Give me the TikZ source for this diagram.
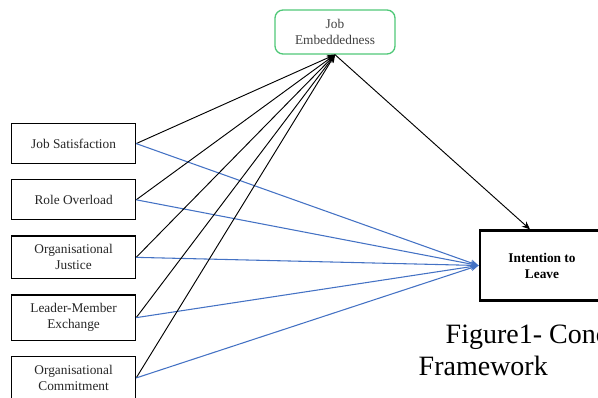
\documentclass[tikz,border=0pt]{standalone}
\usepackage{fontspec}
\setmainfont{Liberation Serif}
\usetikzlibrary{positioning,arrows.meta}
\definecolor{linkblue}{RGB}{68,114,196}
\definecolor{embgreen}{RGB}{80,200,120}
\begin{document}
\begin{tikzpicture}[
  x=0.75pt, y=-0.75pt,
  font=\fontsize{10}{12}\selectfont,
  factor/.style = {
    rectangle, draw=black, line width=0.9pt, minimum width=93pt,
    minimum height=30pt, inner ysep=6.5pt, align=center, text=black!85,
  },
  mediator/.style = {
    rectangle, rounded corners=6pt, draw=embgreen, line width=1pt,
    minimum width=90pt, minimum height=33pt, align=center, text=black!75,
  },
  outcome/.style = {
    rectangle, draw=black, line width=2.2pt, minimum width=93pt,
    minimum height=52pt, align=center, font=\fontsize{10}{12}\selectfont\bfseries,
  },
  toemb/.style = {-{Stealth[length=6pt,width=5pt]}, draw=black, line width=0.7pt},
  toleave/.style = {-{Stealth[length=6pt,width=5pt]}, draw=linkblue, line width=0.8pt},
  node distance=11.25pt,
]
  \useasboundingbox (0,0) rectangle (598,398);
  \clip (0,0) rectangle (598,398);

  \node[factor, anchor=north west] (js) at (11,123) {Job Satisfaction};
  \node[factor, below=of js] (ro) {Role Overload};
  \node[factor, below=of ro] (oj) {Organisational\\Justice};
  \node[factor, below=of oj] (lmx) {Leader-Member\\Exchange};
  \node[factor, below=of lmx] (oc) {Organisational\\Commitment};

  \node[mediator] (je) at (335,32) {Job\\Embeddedness};
  \node[outcome] (il) at (542,265.5) {Intention to\\Leave};

  \node[anchor=base west, font=\fontsize{21}{24}\selectfont] (cap1) at (441,343) {Figure1- Conc};
  \node[anchor=base west, font=\fontsize{21}{24}\selectfont] (cap2) at (414,375) {Framework};

  \foreach \src in {js,ro,oj,lmx,oc} {
    \draw[toemb] (\src.east) -- (je.south);
    \draw[toleave] (\src.east) -- (il.west);
  }
  \draw[toemb] (je.south) -- ([xshift=-9pt]il.north);
\end{tikzpicture}
\end{document}
